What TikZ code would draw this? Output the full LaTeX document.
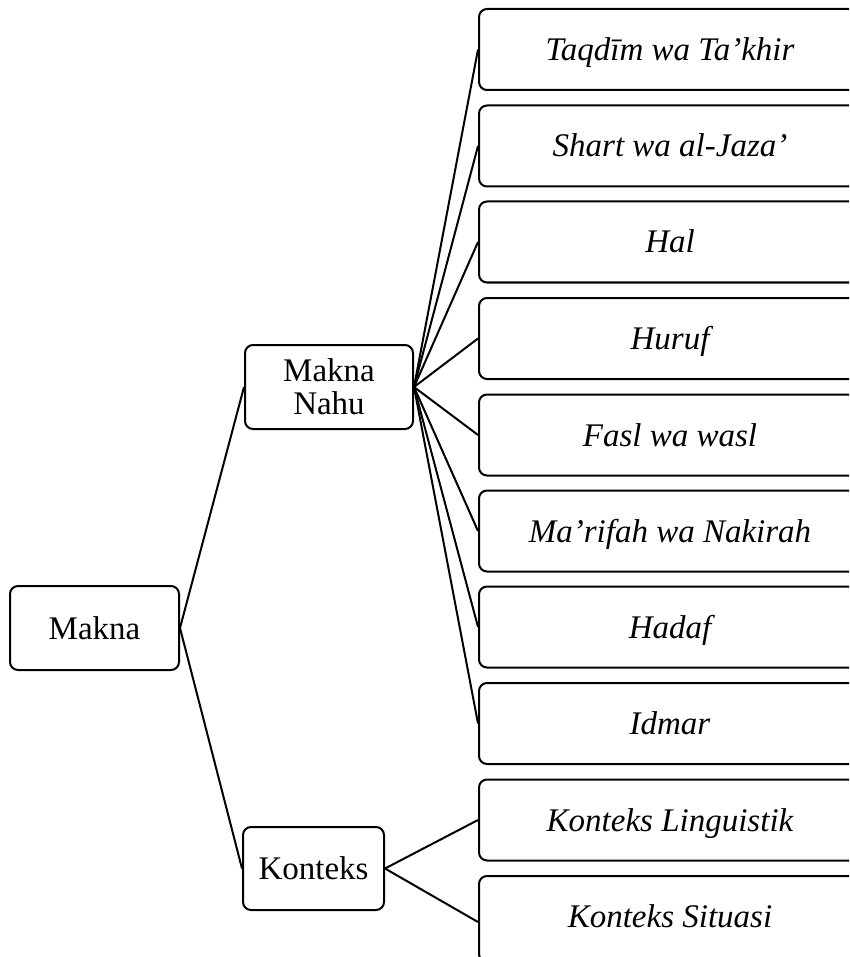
\documentclass[tikz,border=0pt]{standalone}
\usepackage{fontspec}
\setmainfont{Liberation Serif}
\begin{document}
\begin{tikzpicture}[x=1pt,y=-1pt,
  box/.style={draw,line width=2pt,rounded corners=8pt,inner sep=0pt,align=center,
    font=\fontsize{33}{33}\selectfont},
  one/.style={text height=22pt,text depth=0pt},
  leaf/.style={box,one,minimum width=382pt,minimum height=81pt,
    font=\fontsize{33}{33}\selectfont\itshape},
  link/.style={line width=2pt}]
\useasboundingbox (0,0) rectangle (849,957);
\clip (0,0) rectangle (849,957);
\node[box,one,minimum width=169pt,minimum height=84pt] (makna) at (94.5,628) {Makna};
\node[box,minimum width=168pt,minimum height=84pt] (nahu) at (329,387) {Makna\\Nahu};
\node[box,one,minimum width=141pt,minimum height=83pt] (konteks) at (313.5,868.5) {Konteks};
\node[leaf] (l1) at (670,49.5) {Taqdīm wa Ta’khir};
\node[leaf] (l2) at (670,146) {Shart wa al-Jaza’};
\node[leaf] (l3) at (670,242) {Hal};
\node[leaf] (l4) at (670,338.5) {Huruf};
\node[leaf] (l5) at (670,435) {Fasl wa wasl};
\node[leaf] (l6) at (670,531) {Ma’rifah wa Nakirah};
\node[leaf] (l7) at (670,627) {Hadaf};
\node[leaf] (l8) at (670,723.5) {Idmar};
\node[leaf] (k1) at (670,820) {Konteks Linguistik};
\node[leaf,minimum height=86pt] (k2) at (670,919) {\raisebox{3pt}{Konteks Situasi}};
\draw[link] (makna.east) -- (nahu.west);
\draw[link] (makna.east) -- (konteks.west);
\foreach \n in {l1,l2,l3,l4,l5,l6,l7,l8}{\draw[link] (nahu.east) -- (\n.west);}
\draw[link] (konteks.east) -- (k1.west);
\draw[link] (konteks.east) -- ([yshift=-3pt]k2.west);
\end{tikzpicture}
\end{document}
